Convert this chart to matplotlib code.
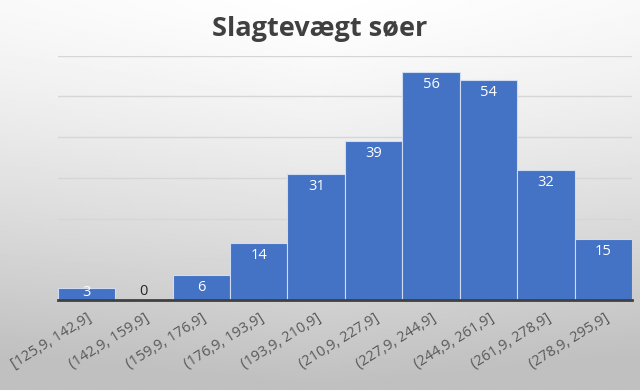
import numpy as np
import matplotlib.pyplot as plt

categories = ["[125,9, 142,9]", "(142,9, 159,9]", "(159,9, 176,9]", "(176,9, 193,9]",
              "(193,9, 210,9]", "(210,9, 227,9]", "(227,9, 244,9]", "(244,9, 261,9]",
              "(261,9, 278,9]", "(278,9, 295,9]"]
counts = [3, 0, 6, 14, 31, 39, 56, 54, 32, 15]

plt.rcParams['font.family'] = ['Open Sans', 'DejaVu Sans']

fig = plt.figure(figsize=(6.4, 3.9), dpi=100)

# gradient background (white top -> light gray bottom)
bg = fig.add_axes([0, 0, 1, 1], zorder=-10)
yy, xx = np.mgrid[0:1:200j, 0:1:300j]
shade = 1.0 - 0.25 * np.clip(yy ** 1.3 + 0.2 * np.abs(xx - 0.5), 0, 1)
bg.imshow(shade, cmap='gray', vmin=0, vmax=1, aspect='auto', extent=[0, 1, 0, 1], origin='upper')
bg.axis('off')

ax = fig.add_axes([0.09, 0.231, 0.898, 0.626])
ax.patch.set_alpha(0)
x = np.arange(len(categories))
ax.bar(x, counts, width=1.0, color='#4472c4', edgecolor='#cfdcf2', linewidth=0.8, zorder=3)

ax.set_xlim(-0.5, len(categories) - 0.5)
ax.set_ylim(0, 60)
ax.set_yticks(np.arange(10, 61, 10))
ax.yaxis.grid(True, color='#d6d6d6', linewidth=1, zorder=0)
ax.tick_params(axis='y', left=False, labelleft=False)
ax.tick_params(axis='x', bottom=False, pad=4)
for s in ['top', 'right', 'left']:
    ax.spines[s].set_visible(False)
ax.spines['bottom'].set_color('#404040')
ax.spines['bottom'].set_linewidth(2)
ax.spines['bottom'].set_zorder(4)

ax.set_xticks(x)
ax.set_xticklabels(categories, rotation=32, ha='right', rotation_mode='anchor',
                   fontsize=10.5, color='#595959')

for xi, v in zip(x, counts):
    if v == 0:
        ax.text(xi, 0.3, str(v), ha='center', va='bottom', fontsize=10.5, color='#262626', zorder=5)
    elif v < 5:
        ax.text(xi, 0.1, str(v), ha='center', va='bottom', fontsize=10.5, color='white', zorder=5)
    else:
        ax.text(xi, v - 1.2, str(v), ha='center', va='top', fontsize=10.5, color='white', zorder=5)

fig.text(0.5, 0.925, "Slagtevægt søer", ha='center', va='center', fontsize=19.5,
         fontweight='bold', color='#404040')

fig.savefig('out.png', dpi=100)
